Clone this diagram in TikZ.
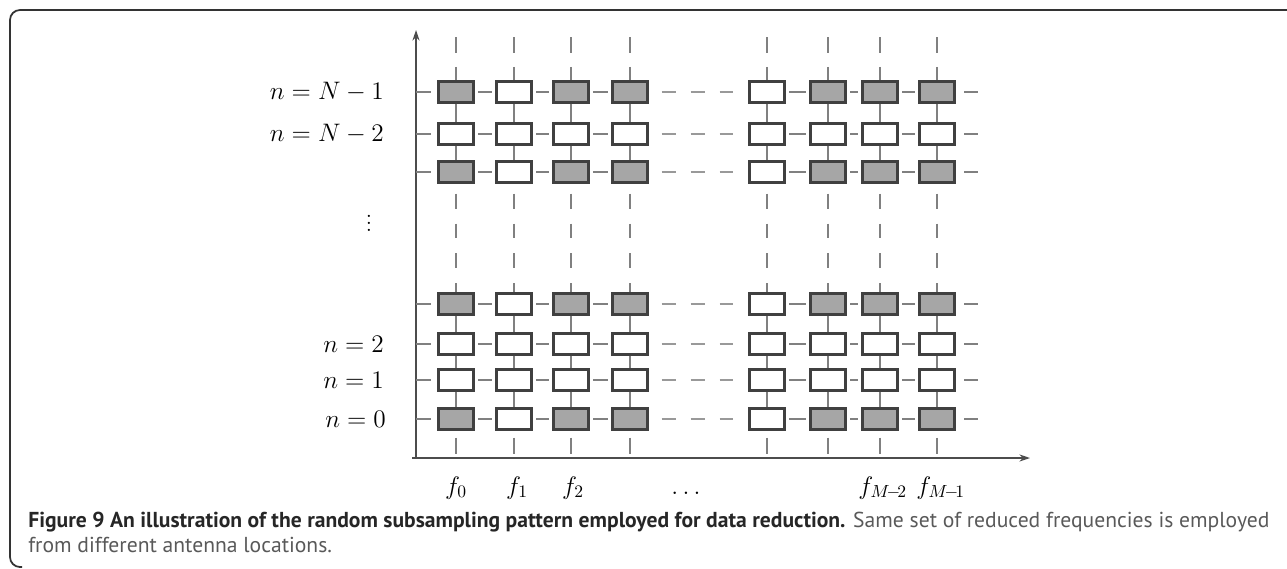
\documentclass[tikz,border=0pt]{standalone}
\usepackage{fontspec}
\newfontfamily\capfont{PT Sans}
\usetikzlibrary{arrows.meta}

\begin{document}
\begin{tikzpicture}[x=0.02cm,y=-0.02cm,
  cell/.style={draw=black!75,line width=1.3pt,minimum width=0.7cm,minimum height=0.42cm,inner sep=0pt},
  link/.style={draw=black!50,line width=1.2pt},
  gaplink/.style={link,draw=black!40,dash pattern=on 8pt off 8.5pt,shorten <=7.4pt,shorten >=8.5pt},
  axis/.style={draw=black!70,line width=0.9pt,-{Stealth[length=6pt,width=4pt]}},
  lab/.style={anchor=east,font=\fontsize{14.5}{17}\selectfont},
  flab/.style={anchor=base,font=\fontsize{14.5}{17}\selectfont},
  capline/.style={anchor=base west,inner sep=0pt,font=\capfont\fontsize{12.3}{14}\selectfont}]
\useasboundingbox (0,0) rectangle (1287,568);
\draw[black!80,line width=1pt,rounded corners=0.2cm] (1300,10) -- (10,10) -- (10,567) -- (22,567);

% axes
\coordinate (o) at (416,458);
\coordinate (ytop) at (416,30);
\coordinate (xend) at (1030,458);
\draw[axis] (412,458) -- (xend);
\draw[axis] (o) -- (ytop);

% sample grid
\foreach \r/\y/\t in {0/419/1,1/380/0,2/344/0,3/304/1,4/172/1,5/134/0,6/92/1}{
  \foreach \c/\x/\k in {1/456/1,2/514/0,3/571/1,4/630/1,5/767/0,6/828/1,7/880/1,8/937/1}{
    \pgfmathtruncatemacro\sh{35*\t*\k}
    \node[cell,fill=black!\sh] (b\r\c) at (\x,\y) {};
  }
  \coordinate (l\r) at (416,\y);
  \coordinate (e\r) at (978,\y);
}

% row links
\foreach \r in {0,...,6}{
  \draw[link,shorten >=3.4pt] (l\r) -- (b\r1.west);
  \foreach \c [evaluate=\c as \nx using int(\c+1)] in {1,2,3,5,6,7}
    \draw[link,shorten <=2pt,shorten >=2pt] (b\r\c.east) -- (b\r\nx.west);
  \draw[gaplink] (b\r4.east) -- (b\r5.west);
  \draw[link,shorten <=5pt] (b\r8.east) -- (e\r);
}

% column links
\foreach \c/\x in {1/456,2/514,3/571,4/630,5/767,6/828,7/880,8/937}{
  \coordinate (t\c) at (\x,37);
  \coordinate (a\c) at (\x,458);
  \draw[link,dash pattern=on 9pt off 8pt] (t\c) -- (b6\c.north);
  \draw[link] (b6\c) -- (b5\c);
  \draw[link] (b5\c) -- (b4\c);
  \draw[link,dash pattern=on 8.5pt off 8.5pt,shorten <=5.7pt] (b4\c.south) -- (b3\c.north);
  \draw[link] (b3\c) -- (b2\c);
  \draw[link] (b2\c) -- (b1\c);
  \draw[link] (b1\c) -- (b0\c);
  \draw[link,shorten <=4pt,shorten >=2pt] (b0\c.south) -- (a\c);
}

% row labels
\node[lab] (n6) at (390,92) {$n=N-1$};
\node[lab] (n5) at (390,134) {$n=N-2$};
\node[font=\fontsize{13}{15}\selectfont] (vd) at (369,218) {$\vdots$};
\node[lab] (n2) at (390,344) {$n=2$};
\node[lab] (n1) at (390,380) {$n=1$};
\node[lab] (n0) at (392,419) {$n=0$};

% frequency labels
\node[flab] (f0) at (456,494) {$f_0$};
\node[flab] (f1) at (517,494) {$f_1$};
\node[flab] (f2) at (573,494) {$f_2$};
\node[flab] (fd) at (686,494) {$\dots$};
\node[flab,anchor=base west,inner sep=0pt] (fm2) at (858,494) {$f_{M\!-\!2}$};
\node[flab,anchor=base west,inner sep=0pt] (fm1) at (916,494) {$f_{M\!-\!1}$};

% caption
\node[capline,text=black!85] (cap1) at (28,527) {\textbf{Figure 9 An illustration of the random subsampling pattern employed for data reduction.} \textcolor{black!65}{Same set of reduced frequencies is employed}};
\node[capline,text=black!65] (cap2) at (28,552) {from different antenna locations.};
\end{tikzpicture}
\end{document}
